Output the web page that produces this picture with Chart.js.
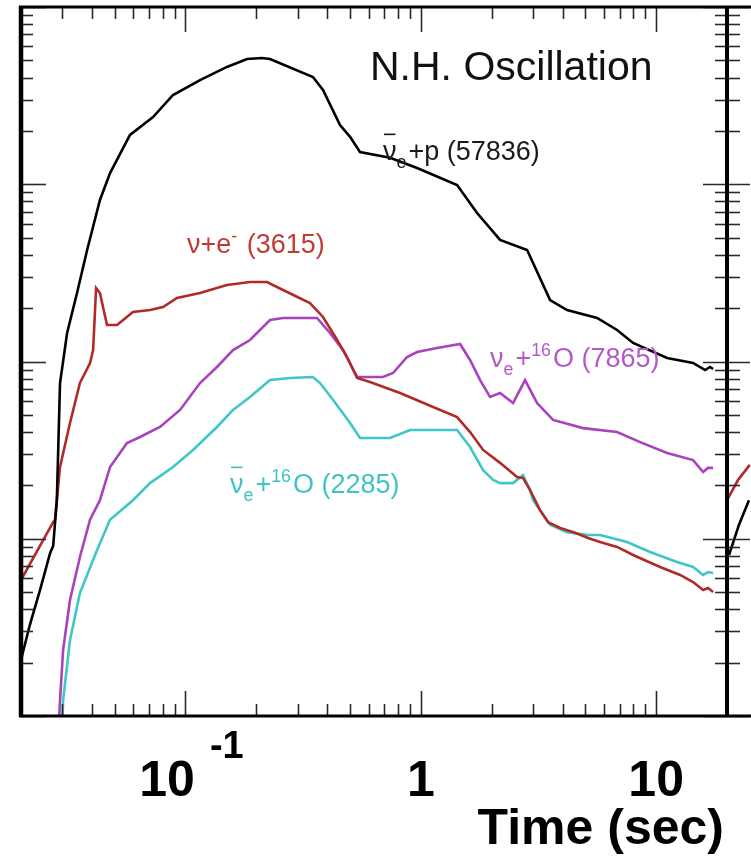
<!DOCTYPE html>
<html><head><meta charset="utf-8">
<script src="https://cdn.jsdelivr.net/npm/chart.js@4.4.1/dist/chart.umd.min.js"></script>
<style>
html,body{margin:0;padding:0;background:#fff;overflow:hidden}
#wrap{position:relative;width:751px;height:861px;background:#fff}
canvas{position:absolute;left:0;top:0}
</style></head><body>
<div id="wrap"><canvas id="side" width="751" height="861"></canvas><canvas id="c" width="751" height="861"></canvas></div>
<script>
// ---------- data (time in sec, rate in arbitrary log units) ----------
const xRange = [0.02, 20];
const yRange = [0.1, 1000];
const xTickLabels = [
  {value: 0.1, base: '10', exp: '-1'},
  {value: 1, base: '1'},
  {value: 10, base: '10'}
];
const xTitle = 'Time (sec)';
const panelTitle = 'N.H. Oscillation';
const eventCounts = [57836, 3615, 7865, 2285];

// anti-nu_e + p (black)
const tNuebarP = [0.0200,0.0218,0.0241,0.0266,0.0274,0.0284,0.0293,0.0314,0.0346,0.0382,0.0433,0.0478,0.0581,0.0728,0.0885,0.1153,0.150,0.1826,0.2114,0.2286,0.348,0.384,0.4536,0.5004,0.5515,0.740,0.964,1.426,1.734,2.171,2.829,3.542,4.182,5.61,6.823,7.98,11.13,14.35,16.14,16.94,17.46];
const vNuebarP = [0.207,0.326,0.514,0.831,0.910,1.65,7.56,14.48,24.35,42.56,81.5,115.7,189.7,239.5,318.8,387,459,509,516,509,403,340,216,185,152,141,123.5,99,68.8,48.5,42.6,22.2,19.5,17.6,15.06,12.72,10.46,9.81,8.95,9.31,9.07];

// nu + e- (red)
const tNuE = [0.0200,0.0274,0.0279,0.0284,0.0293,0.0323,0.0356,0.0393,0.0405,0.0417,0.0433,0.0464,0.0512,0.0598,0.0707,0.0803,0.0920,0.1153,0.150,0.188,0.222,0.2597,0.338,0.384,0.441,0.486,0.536,0.608,0.816,1.127,1.426,1.619,1.839,2.171,2.564,2.720,2.912,3.212,3.474,3.906,4.524,5.137,5.777,6.823,7.98,10.39,12.64,14.35,15.83,16.62,17.46];
const vNuE = [0.585,1.24,1.28,1.65,2.54,4.50,7.56,9.81,11.61,25.98,24.35,16.07,16.07,19.02,19.53,20.30,22.82,24.35,27.02,28.09,28.09,25.31,21.38,17.83,13.22,10.60,8.07,7.66,6.64,5.54,4.86,4.00,3.17,2.68,2.23,2.20,1.88,1.45,1.24,1.15,1.08,1.01,0.959,0.899,0.810,0.693,0.625,0.570,0.514,0.527,0.501];

// nu_e + 16O (magenta)
const tNueO = [0.0288,0.0293,0.0302,0.0323,0.0356,0.0393,0.0433,0.0478,0.0564,0.0641,0.0779,0.0948,0.1153,0.1361,0.1592,0.188,0.2286,0.2597,0.362,0.411,0.467,0.536,0.691,0.762,0.874,0.964,1.172,1.468,1.619,1.786,1.968,2.171,2.466,2.773,3.119,3.648,4.891,6.823,8.547,11.13,14.35,15.83,16.62,17.46];
const vNueO = [0.075,0.123,0.236,0.451,0.789,1.28,1.65,2.54,3.47,3.75,4.27,5.33,7.56,9.31,11.61,13.22,17.15,17.60,17.60,14.48,11.61,8.18,8.18,8.61,10.60,11.31,11.92,12.55,10.20,7.86,6.31,6.64,5.83,7.86,5.83,4.68,4.21,4.00,3.51,3.05,2.78,2.38,2.51,2.51];

// anti-nu_e + 16O (cyan)
const tNuebarO = [0.0298,0.0302,0.0323,0.0356,0.0421,0.0478,0.0598,0.0707,0.0885,0.1076,0.1361,0.1592,0.188,0.2286,0.278,0.348,0.373,0.424,0.5004,0.5515,0.740,0.900,1.426,1.619,1.839,2.028,2.171,2.466,2.720,2.912,2.999,3.542,4.182,5.137,5.777,7.52,9.424,12.27,14.35,15.83,16.62,17.46];
const vNuebarO = [0.073,0.123,0.268,0.494,0.864,1.28,1.65,2.06,2.54,3.17,4.27,5.33,6.31,7.86,8.07,8.18,7.56,6.07,4.50,3.70,3.70,4.11,4.11,3.29,2.44,2.15,2.06,2.06,2.29,1.88,1.65,1.20,1.09,1.05,1.05,0.959,0.842,0.739,0.693,0.625,0.649,0.641];

// neighbouring panel (only its left edge is visible)
const sideXRange = [0.02, 0.0253];
const tSideRed = [0.0200,0.0223,0.0250];
const vSideRed = [1.65,2.15,2.61];
const tSideBlack = [0.0204,0.0225,0.0248];
const vSideBlack = [0.81,1.20,1.65];

// ---------- helpers ----------
const pts = (t, v) => t.map((x, i) => ({x, y: v[i]}));
const FONT = '"Liberation Sans", Arial, Helvetica, sans-serif';
function logTicks(min, max) {
  const out = [];
  for (let d = Math.floor(Math.log10(min)) - 1; d <= Math.ceil(Math.log10(max)); d++)
    for (let m = 1; m <= 9; m++) {
      const v = m * Math.pow(10, d);
      if (v >= min * 0.999 && v <= max * 1.001) out.push(v);
    }
  return out;
}
const isMajor = v => Math.abs(Math.log10(v) - Math.round(Math.log10(v))) < 1e-9;

function rich(ctx, x, y, parts, size, color) {
  ctx.fillStyle = color; ctx.strokeStyle = color;
  ctx.textBaseline = 'alphabetic'; ctx.textAlign = 'left';
  for (const p of parts) {
    let fs = size, dy = 0, gap = 0;
    if (p.sub) { fs = size * 0.66; dy = size * 0.3; gap = 2; }
    if (p.sup) { fs = size * 0.66; dy = -size * 0.42; gap = 2; }
    ctx.font = fs + 'px ' + FONT;
    const w = ctx.measureText(p.t).width;
    ctx.fillText(p.t, x, y + dy);
    if (p.bar) {
      ctx.lineWidth = 1.6; ctx.beginPath();
      ctx.moveTo(x + 1, y - size * 0.95); ctx.lineTo(x + w - 1, y - size * 0.95); ctx.stroke();
    }
    x += w + gap;
  }
}

const annotations = [
  {x: 383, y: 160, color: '#1a1a1a', parts: [{t:'ν', bar:true},{t:'e', sub:true},{t:'+p ('+eventCounts[0]+')'}]},
  {x: 187, y: 253, color: '#c23a34', parts: [{t:'ν+e'},{t:'-', sup:true},{t:' ('+eventCounts[1]+')'}]},
  {x: 490, y: 367, color: '#b45ac6', parts: [{t:'ν'},{t:'e', sub:true},{t:'+'},{t:'16', sup:true},{t:'O ('+eventCounts[2]+')'}]},
  {x: 230, y: 493, color: '#3fc3c3', parts: [{t:'ν', bar:true},{t:'e', sub:true},{t:'+'},{t:'16', sup:true},{t:'O ('+eventCounts[3]+')'}]}
];

const framePlugin = {
  id: 'framePlugin',
  afterDatasetsDraw(chart) {
    const ctx = chart.ctx, a = chart.chartArea, xs = chart.scales.x, ys = chart.scales.y;
    const W = chart.width;
    ctx.save();
    const line = (x1, y1, x2, y2) => { ctx.beginPath(); ctx.moveTo(x1, y1); ctx.lineTo(x2, y2); ctx.stroke(); };
    // ticks
    ctx.strokeStyle = '#2a2a2a'; ctx.lineWidth = 1.6;
    logTicks(xs.min, xs.max).forEach(v => {
      const p = Math.round(xs.getPixelForValue(v)) + 0.5;
      const L = isMajor(v) ? 25 : 12;
      line(p, a.bottom, p, a.bottom - L);
      line(p, a.top, p, a.top + L);
    });
    logTicks(ys.min, ys.max).forEach(v => {
      const p = Math.round(ys.getPixelForValue(v)) + 0.5;
      const maj = isMajor(v);
      line(a.left, p, a.left + (maj ? 25 : 12), p);
      line(a.right - (maj ? 24 : 12), p, a.right + (maj ? 23 : 13), p);
    });
    // frame
    ctx.strokeStyle = '#000';
    ctx.lineWidth = 3;
    line(a.left - 2, a.top, W, a.top);
    line(a.left - 2, a.bottom, W, a.bottom);
    ctx.lineWidth = 4.5;
    line(a.left, a.top - 1, a.left, a.bottom + 1);
    ctx.lineWidth = 4;
    line(a.right, a.top - 1, a.right, a.bottom + 1);
    // x tick labels
    ctx.fillStyle = '#000'; ctx.textBaseline = 'alphabetic';
    xTickLabels.forEach(l => {
      const p = xs.getPixelForValue(l.value);
      ctx.font = 'bold 50px ' + FONT;
      const wb = ctx.measureText(l.base).width;
      if (l.exp) {
        ctx.font = 'bold 38px ' + FONT;
        const we = ctx.measureText(l.exp).width;
        const total = wb + 15 + we;
        const s = p - total / 2 + 6;
        ctx.textAlign = 'left';
        ctx.font = 'bold 50px ' + FONT;
        ctx.fillText(l.base, s, 796);
        ctx.font = 'bold 38px ' + FONT;
        ctx.fillText(l.exp, s + wb + 15, 758);
      } else {
        ctx.textAlign = 'center';
        ctx.fillText(l.base, p, 796);
      }
    });
    // axis title
    ctx.font = 'bold 50px ' + FONT; ctx.textAlign = 'right';
    ctx.fillText(xTitle, 724, 844);
    // panel title
    ctx.font = '41px ' + FONT; ctx.textAlign = 'left'; ctx.fillStyle = '#111';
    ctx.fillText(panelTitle, 370, 80);
    // curve labels
    annotations.forEach(an => rich(ctx, an.x, an.y, an.parts, 27, an.color));
    ctx.restore();
  }
};

const lineDs = (label, data, color) => ({
  label, data, borderColor: color, backgroundColor: color,
  borderWidth: 2.6, pointRadius: 0, tension: 0, fill: false
});

Chart.defaults.font.family = FONT;

new Chart(document.getElementById('side'), {
  type: 'line',
  data: {datasets: [
    lineDs('side black', pts(tSideBlack, vSideBlack), '#000'),
    lineDs('side red', pts(tSideRed, vSideRed), '#b02a2a')
  ]},
  options: {
    responsive: false, animation: false, devicePixelRatio: 1,
    layout: {padding: {left: 727, right: 0, top: 7, bottom: 145}},
    plugins: {legend: {display: false}, tooltip: {enabled: false}},
    scales: {
      x: {type: 'logarithmic', min: sideXRange[0], max: sideXRange[1], display: false},
      y: {type: 'logarithmic', min: yRange[0], max: yRange[1], display: false}
    }
  }
});

new Chart(document.getElementById('c'), {
  type: 'line',
  data: {datasets: [
    lineDs('ν̄e+p', pts(tNuebarP, vNuebarP), '#000000'),
    lineDs('ν+e-', pts(tNuE, vNuE), '#b02a2a'),
    lineDs('νe+16O', pts(tNueO, vNueO), '#a942bd'),
    lineDs('ν̄e+16O', pts(tNuebarO, vNuebarO), '#3fc6c6')
  ]},
  options: {
    responsive: false, animation: false, devicePixelRatio: 1,
    layout: {padding: {left: 21, right: 24, top: 7, bottom: 145}},
    plugins: {legend: {display: false}, tooltip: {enabled: false}},
    scales: {
      x: {type: 'logarithmic', min: xRange[0], max: xRange[1], display: false},
      y: {type: 'logarithmic', min: yRange[0], max: yRange[1], display: false}
    }
  },
  plugins: [framePlugin]
});
</script>
</body></html>
